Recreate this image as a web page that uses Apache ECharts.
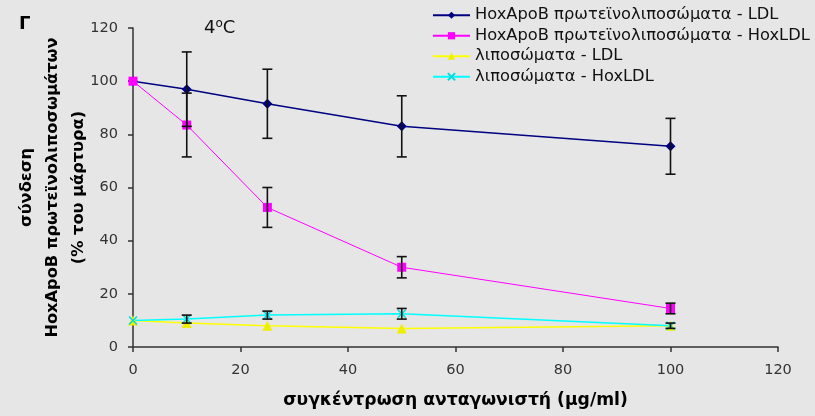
<!DOCTYPE html>
<html><head><meta charset="utf-8">
<script src="https://cdn.jsdelivr.net/npm/echarts@6/dist/echarts.min.js"></script>
<style>html,body{margin:0;padding:0;background:#e6e6e6}#c{width:815px;height:416px}</style>
</head><body><div id="c"></div>
<script>
const xValues = [0, 10, 25, 50, 100];
const seriesNames = ['HoxApoB πρωτεϊνολιποσώματα - LDL','HoxApoB πρωτεϊνολιποσώματα - HoxLDL','λιποσώματα - LDL','λιποσώματα - HoxLDL'];
const ldlProteo = [100, 97, 91.5, 83, 75.5];
const ldlProteoErr = [0, 14, 13, 11.5, 10.5];
const hoxProteo = [100, 83.5, 52.5, 30, 14.5];
const hoxProteoErr = [0, 12, 7.5, 4, 2];
const ldlLipo = [10, 9, 8, 7, 8];
const hoxLipo = [10, 10.5, 12, 12.5, 8];
const hoxLipoErr = [0, 1.5, 1.5, 2, 1];
const xTicks = [0, 20, 40, 60, 80, 100, 120];
const yTicks = [0, 20, 40, 60, 80, 100, 120];

const FONT = '"DejaVu Sans", Verdana, sans-serif';
const chart = echarts.init(document.getElementById('c'));

function pts(vals){ return xValues.map((x,i)=>[x, vals[i]]); }
function errSeries(vals, errs){
  return {
    type: 'custom', silent: true, z: 5,
    data: xValues.map((x,i)=>[x, vals[i], errs[i]]).filter(d=>d[2]>0),
    renderItem: function(params, api){
      const x = api.value(0), y = api.value(1), e = api.value(2);
      const top = api.coord([x, y+e]);
      const bot = api.coord([x, y-e]);
      const w = 5;
      const st = {stroke:'#111', lineWidth:1.6};
      return {type:'group', children:[
        {type:'line', shape:{x1:top[0],y1:top[1],x2:bot[0],y2:bot[1]}, style:st},
        {type:'line', shape:{x1:top[0]-w,y1:top[1],x2:top[0]+w,y2:top[1]}, style:st},
        {type:'line', shape:{x1:bot[0]-w,y1:bot[1],x2:bot[0]+w,y2:bot[1]}, style:st}
      ]};
    }
  };
}

const option = {
  backgroundColor: '#e6e6e6',
  animation: false,
  grid: {left: 133, right: 37, top: 28, bottom: 69, containLabel: false, outerBoundsMode: 'none'},
  title: [
    {text: 'Γ', left: 14, top: 10, textStyle: {fontFamily: FONT, fontSize: 18, fontWeight: 'bold', color: '#000'}},
    {text: '{n|4}{s|o}{n|C}', left: 199, top: 13, textStyle: {rich: {
      n: {fontFamily: FONT, fontSize: 18, fontWeight: 'normal', color: '#111'},
      s: {fontFamily: FONT, fontSize: 12, fontWeight: 'normal', color: '#111', verticalAlign: 'top', padding: [0,0,9,0]}
    }}}
  ],
  legend: {
    orient: 'vertical', left: 427, top: 1, itemGap: 2, itemWidth: 37, itemHeight: 9,
    data: seriesNames,
    textStyle: {fontFamily: FONT, fontSize: 16.3, color: '#111', lineHeight: 18.5}
  },
  xAxis: {
    type: 'value', min: 0, max: 120, interval: 20,
    name: 'συγκέντρωση ανταγωνιστή (μg/ml)', nameLocation: 'middle', nameGap: 45, nameMoveOverlap: false,
    nameTextStyle: {fontFamily: FONT, fontSize: 17.2, fontWeight: 'bold', color: '#000'},
    axisLine: {lineStyle: {color: '#333', width: 1.5}},
    axisTick: {length: 5, lineStyle: {color: '#333', width: 1.5}},
    axisLabel: {fontFamily: FONT, fontSize: 14.5, color: '#333', margin: 16,
      formatter: v => xTicks.includes(v) ? String(v) : ''},
    splitLine: {show: false}
  },
  yAxis: {
    type: 'value', min: 0, max: 120, interval: 20,
    name: 'σύνδεση\nHoxApoB πρωτεϊνολιποσωμάτων\n(% του μάρτυρα)', nameLocation: 'middle', nameGap: 41, nameRotate: 90, nameMoveOverlap: false,
    nameTextStyle: {fontFamily: FONT, fontSize: 16.2, fontWeight: 'bold', color: '#000', lineHeight: 26},
    axisLine: {lineStyle: {color: '#333', width: 1.5}},
    axisTick: {length: 5, lineStyle: {color: '#333', width: 1.5}},
    axisLabel: {fontFamily: FONT, fontSize: 14.5, color: '#333', margin: 15,
      formatter: v => yTicks.includes(v) ? String(v) : ''},
    splitLine: {show: false}
  },
  series: [
    errSeries(ldlProteo, ldlProteoErr),
    errSeries(hoxProteo, hoxProteoErr),
    errSeries(hoxLipo, hoxLipoErr),
    {name: seriesNames[0], type: 'line', data: pts(ldlProteo), symbol: 'diamond', symbolSize: 10,
      lineStyle: {color: '#000080', width: 1.5}, itemStyle: {color: '#000080'}, z: 3},
    {name: seriesNames[1], type: 'line', data: pts(hoxProteo), symbol: 'rect', symbolSize: 9,
      lineStyle: {color: '#ff00ff', width: 1}, itemStyle: {color: '#ff00ff'}, z: 3},
    {name: seriesNames[2], type: 'line', data: pts(ldlLipo), symbol: 'triangle', symbolSize: 10,
      lineStyle: {color: '#ffff00', width: 1.5}, itemStyle: {color: '#eeee00'}, z: 3},
    {name: seriesNames[3], type: 'line', data: pts(hoxLipo), symbol: 'path://M0,0L10,10M10,0L0,10', symbolSize: 8,
      lineStyle: {color: '#00ffff', width: 1.5}, itemStyle: {color: 'none', borderColor: '#00dddd', borderWidth: 1.5}, z: 3}
  ]
};
chart.setOption(option);
</script></body></html>
